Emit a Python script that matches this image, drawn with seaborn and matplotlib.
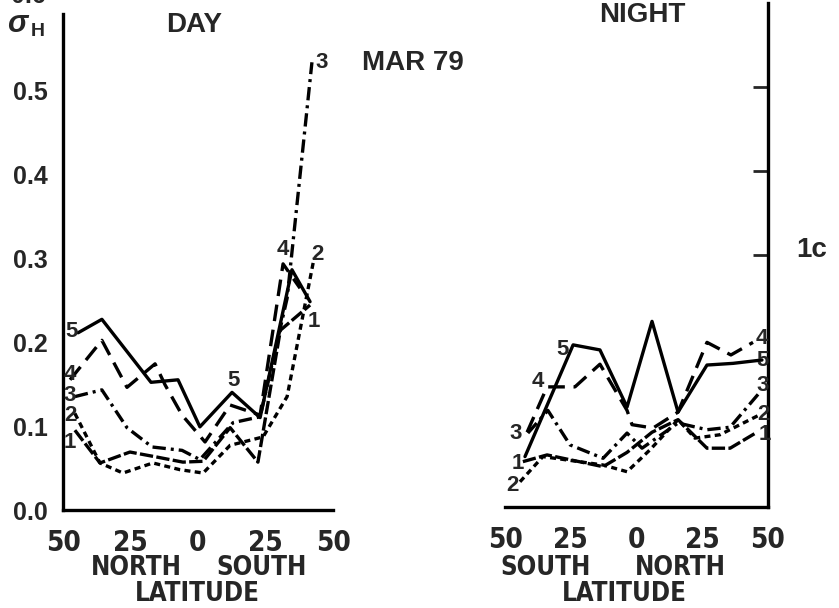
import matplotlib
matplotlib.use("Agg")
import matplotlib.pyplot as plt
import seaborn as sns
import pandas as pd

sns.set_style("white")
plt.rcParams['font.family'] = ['Liberation Sans', 'DejaVu Sans']
plt.rcParams['mathtext.fontset'] = 'custom'
plt.rcParams['mathtext.rm'] = 'Liberation Sans:bold'
plt.rcParams['mathtext.it'] = 'Liberation Sans:italic:bold'

# ---------------- data (latitude position, sigma_H) ----------------
# DAY panel (x: -50 = 50 North ... +50 = 50 South)
day1_lat = [-45.6, -36.3, -25.2, -15.2, -5.6, 1.9, 11.9, 22.2, 30.5, 41.5]
day1_val = [0.095, 0.056, 0.069, 0.063, 0.057, 0.058, 0.098, 0.057, 0.214, 0.244]
day2_lat = [-45.6, -36.3, -27.8, -16.7, -6.7, 1.9, 11.9, 24.1, 33.0, 43.0]
day2_val = [0.115, 0.056, 0.044, 0.056, 0.048, 0.044, 0.077, 0.087, 0.135, 0.300]
day3_lat = [-45.6, -35.6, -26.3, -17.0, -5.9, 0.7, 13.0, 23.0, 33.0, 42.2]
day3_val = [0.135, 0.143, 0.098, 0.075, 0.071, 0.060, 0.104, 0.111, 0.252, 0.533]
day4_lat = [-47.4, -35.6, -26.3, -15.9, -12.2, -5.9, 2.6, 11.9, 23.0, 31.5, 37.8]
day4_val = [0.155, 0.202, 0.146, 0.174, 0.149, 0.113, 0.081, 0.125, 0.113, 0.293, 0.264]
day5_lat = [-44.4, -35.6, -17.4, -7.4, 0.7, 12.6, 23.0, 34.8, 41.5]
day5_val = [0.211, 0.227, 0.152, 0.155, 0.099, 0.140, 0.110, 0.286, 0.248]

# NIGHT panel (x: -50 = 50 South ... +50 = 50 North)
night1_lat = [-43.2, -34.0, -12.7, -3.6, 5.9, 15.8, 26.8, 35.6, 45.8]
night1_val = [0.054, 0.062, 0.048, 0.065, 0.089, 0.104, 0.070, 0.070, 0.089]
night2_lat = [-44.3, -35.6, -12.7, -3.6, 5.1, 15.8, 22.2, 31.7, 47.0]
night2_val = [0.030, 0.060, 0.050, 0.042, 0.068, 0.104, 0.082, 0.086, 0.110]
night3_lat = [-41.3, -33.7, -25.3, -12.7, -3.6, 2.1, 15.8, 26.8, 35.6, 47.0]
night3_val = [0.088, 0.115, 0.074, 0.058, 0.088, 0.070, 0.100, 0.092, 0.095, 0.137]
night4_lat = [-41.6, -34.0, -23.4, -13.9, -3.6, -1.7, 6.3, 15.8, 26.8, 35.9, 44.3]
night4_val = [0.089, 0.143, 0.143, 0.170, 0.115, 0.098, 0.094, 0.113, 0.196, 0.181, 0.196]
night5_lat = [-42.4, -24.1, -13.9, -3.6, 5.9, 15.8, 26.8, 36.7, 47.7]
night5_val = [0.060, 0.193, 0.187, 0.119, 0.221, 0.113, 0.169, 0.171, 0.175]

x_ticks = [-50, -25, 0, 25, 50]
x_ticklabels = ["50", "25", "0", "25", "50"]
y_ticks = [0.0, 0.1, 0.2, 0.3, 0.4, 0.5]
y_ticklabels = ["0.0", "0.1", "0.2", "0.3", "0.4", "0.5"]
night_y_ticks = [0.3, 0.4, 0.5]

# ---------------- styles ----------------
LW = 2.4
styles = {
    1: (0, (4.0, 1.0)),
    2: (0, (1.8, 1.3)),
    3: (0, (4.0, 1.5, 0.9, 1.5)),
    4: (0, (5.0, 2.6)),
    5: '-',
}

W, H = 839, 608
fig = plt.figure(figsize=(W / 100, H / 100), dpi=100)


def fx(px):
    return px / W


def fy(py):
    return 1 - py / H


axL = fig.add_axes([fx(63), fy(510), 270 / W, 0.59 * 840 / H])
axR = fig.add_axes([fx(505), fy(507), 263 / W, 0.60 * 840 / H])

day = {1: (day1_lat, day1_val), 2: (day2_lat, day2_val), 3: (day3_lat, day3_val),
       4: (day4_lat, day4_val), 5: (day5_lat, day5_val)}
night = {1: (night1_lat, night1_val), 2: (night2_lat, night2_val), 3: (night3_lat, night3_val),
         4: (night4_lat, night4_val), 5: (night5_lat, night5_val)}

for ax, data in ((axL, day), (axR, night)):
    for k, (xs, ys) in data.items():
        df = pd.DataFrame({"lat": xs, "sig": ys})
        sns.lineplot(data=df, x="lat", y="sig", ax=ax, color="black", linewidth=LW,
                     linestyle=styles[k], sort=False, estimator=None, legend=False)

NARROW = ['DejaVu Sans', 'Liberation Sans']
xfont = dict(family=NARROW, stretch='condensed', weight='bold', size=20)

for ax in (axL, axR):
    ax.set_xlim(-50, 50)
    ax.set_xlabel("")
    ax.set_ylabel("")
    ax.set_facecolor("none")
    for s in ax.spines.values():
        s.set_linewidth(2.4)
        s.set_color("black")
    ax.set_xticks(x_ticks)
    ax.set_xticklabels(x_ticklabels, fontdict=xfont)
    ax.tick_params(axis='x', direction='in', length=11, width=2.0, pad=14, color='black')

axL.set_ylim(0, 0.59)
axL.spines['top'].set_visible(False)
axL.spines['right'].set_visible(False)
axL.set_yticks(y_ticks)
axL.set_yticklabels(y_ticklabels, fontsize=18, fontweight='bold')
axL.tick_params(axis='y', direction='in', length=11, width=2.0, pad=11)

axR.set_ylim(0, 0.60)
axR.spines['top'].set_visible(False)
axR.spines['left'].set_visible(False)
axR.yaxis.tick_right()
axR.set_yticks(night_y_ticks)
axR.set_yticklabels([])
axR.tick_params(axis='y', direction='in', length=11, width=2.0, left=False, right=True)

# curve labels
lab = dict(fontsize=16, fontweight='bold', ha='center', va='center')
dayL = [(-46.7, 0.213, '5'), (-47.4, 0.161, '4'), (-47.4, 0.136, '3'), (-47.4, 0.112, '2'),
        (-47.4, 0.080, '1'), (45.9, 0.533, '3'), (31.5, 0.310, '4'), (44.1, 0.304, '2'),
        (43.0, 0.224, '1'), (13.0, 0.154, '5')]
for x, y, t in dayL:
    axL.text(x, y, t, **lab)
nightL = [(-28.3, 0.187, '5'), (-37.5, 0.149, '4'), (-45.8, 0.088, '3'), (-45.1, 0.052, '1'),
          (-47.0, 0.026, '2'), (47.7, 0.201, '4'), (48.1, 0.175, '5'), (48.1, 0.145, '3'),
          (48.1, 0.110, '2'), (48.9, 0.086, '1')]
for x, y, t in nightL:
    axR.text(x, y, t, clip_on=False, **lab)

# titles and annotations
big = dict(fontsize=20, fontweight='bold', ha='center', va='center')
fig.text(fx(194), fy(25), "DAY", **big)
fig.text(fx(642), fy(15), "NIGHT", **big)
fig.text(fx(362), fy(63), "MAR 79", fontsize=20, fontweight='bold', ha='left', va='center')
fig.text(fx(812), fy(250), "1c", **big)
fig.text(fx(28), fy(-4), "0.6", fontsize=18, fontweight='bold', ha='center', va='center')
fig.text(fx(19), fy(24), r"$\sigma$", fontsize=22, ha='center', va='center')
fig.text(fx(38), fy(31), "H", fontsize=14, fontweight='bold', ha='center', va='center')

bfont = dict(family=NARROW, stretch='condensed', weight='bold', size=18.5,
             ha='center', va='center')
fig.text(fx(136), fy(568), "NORTH", **bfont)
fig.text(fx(262), fy(568), "SOUTH", **bfont)
fig.text(fx(197), fy(594), "LATITUDE", **bfont)
fig.text(fx(546), fy(568), "SOUTH", **bfont)
fig.text(fx(680), fy(568), "NORTH", **bfont)
fig.text(fx(624), fy(594), "LATITUDE", **bfont)

fig.savefig("out.png", dpi=100, facecolor="white")
